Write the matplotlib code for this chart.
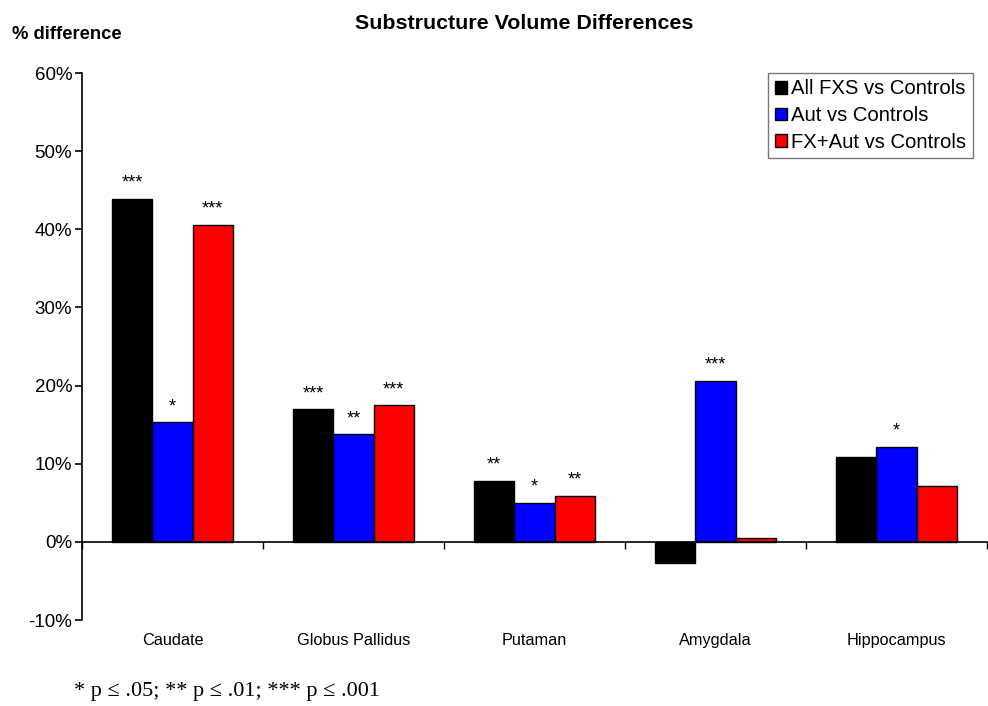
import numpy as np
import matplotlib
matplotlib.use("Agg")
import matplotlib.pyplot as plt
from matplotlib.transforms import blended_transform_factory

# --- dati ---
regions = ["Caudate", "Globus Pallidus", "Putaman", "Amygdala", "Hippocampus"]
all_fxs = [43.9, 17.0, 7.8, -2.7, 10.9]
aut = [15.3, 13.8, 5.0, 20.6, 12.2]
fx_aut = [40.6, 17.5, 5.9, 0.5, 7.2]
series_names = ["All FXS vs Controls", "Aut vs Controls", "FX+Aut vs Controls"]
stars_all = ["***", "***", "**", "", ""]
stars_aut = ["*", "**", "*", "***", "*"]
stars_fxaut = ["***", "***", "**", "", ""]

plt.rcParams["font.family"] = ["Liberation Sans", "DejaVu Sans"]

fig = plt.figure(figsize=(9.88, 7.06), dpi=100)
ax = fig.add_axes([0.083, 0.1218, 0.916, 0.7748])

x = np.arange(len(regions))
w = 0.2225
colors = ["#000000", "#0000ff", "#ff0000"]
series = [all_fxs, aut, fx_aut]
stars = [stars_all, stars_aut, stars_fxaut]

for j, (vals, col, name, st) in enumerate(zip(series, colors, series_names, stars)):
    pos = x + (j - 1) * w
    ax.bar(pos, vals, width=w, color=col, edgecolor="black",
           linewidth=1.0, label=name)
    for p, v, s in zip(pos, vals, st):
        if s:
            ax.annotate(s, (p, v), xytext=(0, 5), textcoords="offset points",
                        ha="center", va="bottom", fontsize=13)

ax.set_xlim(-0.5, len(regions) - 0.5)
ax.set_ylim(-10, 60)
ax.set_yticks(range(-10, 61, 10))
ax.set_yticklabels([f"{t}%" for t in range(-10, 61, 10)], fontsize=13.5)

ax.spines["top"].set_visible(False)
ax.spines["right"].set_visible(False)
ax.spines["bottom"].set_position(("data", 0))
ax.spines["left"].set_linewidth(1.2)
ax.spines["bottom"].set_linewidth(1.2)
ax.set_xticks(np.arange(-0.5, len(regions), 1.0))
ax.set_xticklabels([])
ax.tick_params(axis="x", direction="out", length=5, width=1)
ax.tick_params(axis="y", direction="out", length=5, width=1.2, pad=2)

trans = blended_transform_factory(ax.transData, ax.transAxes)
for i, r in enumerate(regions):
    ax.text(i, -0.038, r, transform=trans, ha="center", va="center", fontsize=11.7)

leg = ax.legend(loc="upper right", bbox_to_anchor=(0.984, 1.0), fontsize=14.6,
                frameon=True, fancybox=False, edgecolor="#555555",
                handlelength=0.6, handleheight=0.6, handletextpad=0.2,
                borderpad=0.32, labelspacing=0.38, borderaxespad=0.0)
leg.get_frame().set_linewidth(1.0)

fig.text(0.531, 0.967, "Substructure Volume Differences", ha="center", va="center",
         fontsize=15.4, fontweight="bold")
fig.text(0.012, 0.951, "% difference", ha="left", va="center",
         fontsize=13.2, fontweight="bold")
fig.text(0.075, 0.020, "* p \u2264 .05; ** p \u2264 .01; *** p \u2264 .001", ha="left",
         va="center", fontsize=16, family=["Liberation Serif", "DejaVu Serif"])

plt.savefig("out.png", dpi=100)
